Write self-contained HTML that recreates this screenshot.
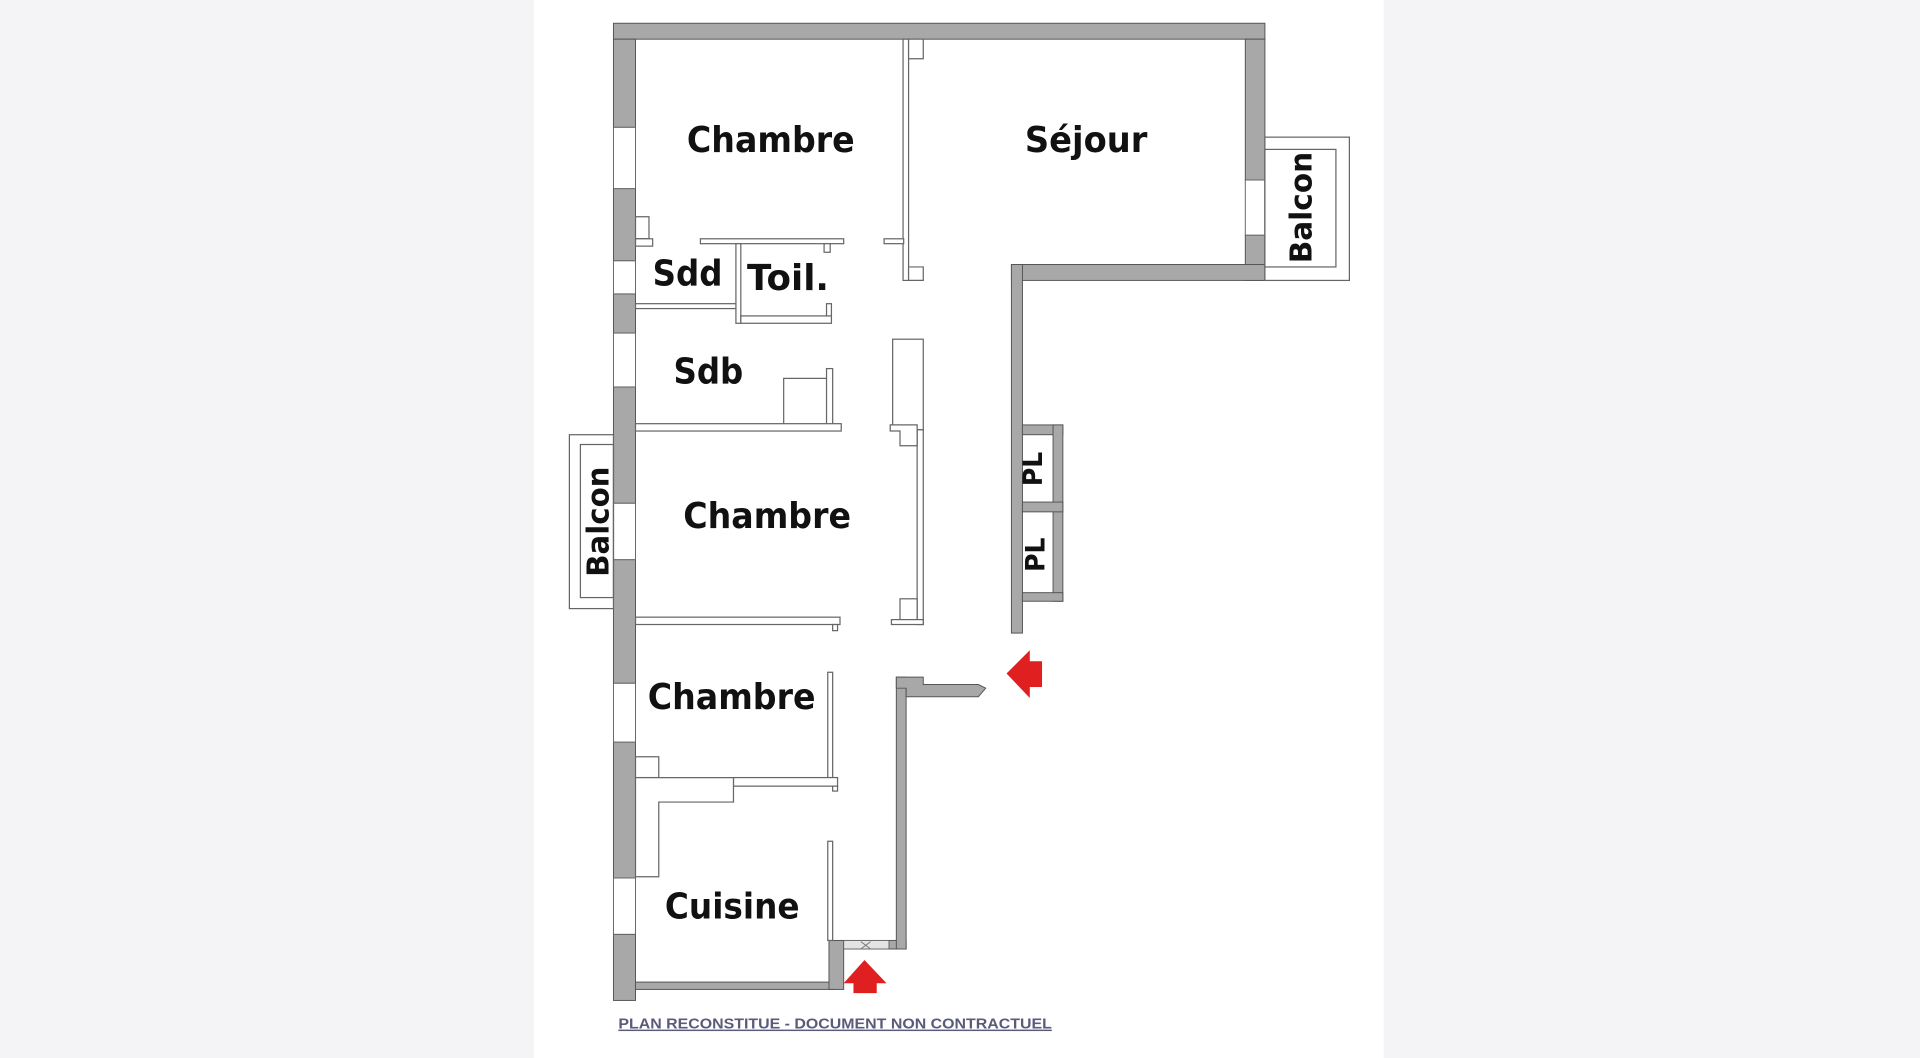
<!DOCTYPE html>
<html><head><meta charset="utf-8"><style>
html,body{margin:0;padding:0;width:1920px;height:1058px;overflow:hidden;background:#f4f4f6}
svg{display:block}
</style></head><body>
<svg width="1920" height="1058" viewBox="0 0 1568 864" preserveAspectRatio="none" xmlns="http://www.w3.org/2000/svg">
<rect x="0" y="0" width="1568" height="864" fill="#f4f4f6"/>
<rect x="436" y="0" width="694" height="864" fill="#ffffff"/>
<g fill="#a8a8a8" stroke="#555" stroke-width="0.8">
 <!-- top wall -->
 <rect x="501" y="19" width="532" height="13"/>
 <!-- right wall -->
 <rect x="1017" y="32" width="16" height="115"/>
 <rect x="1017" y="192" width="16" height="37"/>
 <rect x="826" y="216" width="207" height="13"/>
 <rect x="826" y="216" width="9" height="301"/>
 <!-- PL -->
 <rect x="835" y="347" width="33" height="8"/>
 <rect x="860" y="347" width="8" height="144"/>
 <rect x="835" y="410" width="33" height="8"/>
 <rect x="835" y="484" width="33" height="7"/>
 <!-- left wall -->
 <rect x="501" y="32" width="18" height="72"/>
 <rect x="501" y="154" width="18" height="59"/>
 <rect x="501" y="240" width="18" height="32"/>
 <rect x="501" y="316" width="18" height="95"/>
 <rect x="501" y="457" width="18" height="101"/>
 <rect x="501" y="606" width="18" height="111"/>
 <rect x="501" y="763" width="18" height="54"/>
 <!-- bottom -->
 <rect x="519" y="802" width="162" height="6"/>
 <rect x="677" y="768" width="12" height="40"/>
 <rect x="726" y="768" width="14" height="7"/>
 <rect x="732" y="553" width="8" height="222"/>
 <path d="M732 553 H754 V559 H799 L805 562 L799 569 H740 V562 H732Z"/>
</g>
<!-- windows -->
<g fill="#fff" stroke="#666" stroke-width="0.8">
 <rect x="501" y="104" width="18" height="50"/>
 <rect x="501" y="213" width="18" height="27"/>
 <rect x="501" y="272" width="18" height="44"/>
 <rect x="501" y="411" width="18" height="46"/>
 <rect x="501" y="558" width="18" height="48"/>
 <rect x="501" y="717" width="18" height="46"/>
 <rect x="1017" y="147" width="16" height="45"/>
 <rect x="689" y="768" width="37" height="7" fill="#e4e4e4"/>
</g>
<path d="M703 769 L711 775 M711 769 L703 775" stroke="#777" stroke-width="0.8"/>
<!-- balconies -->
<g fill="none" stroke="#666" stroke-width="1">
 <rect x="465" y="355" width="36" height="142"/>
 <rect x="474" y="363" width="27" height="125"/>
 <rect x="1033" y="112" width="69" height="117"/>
 <rect x="1033" y="122" width="58" height="96"/>
</g>
<!-- partitions -->
<g fill="#fff" stroke="#666" stroke-width="1">
 <rect x="737.5" y="32" width="4.5" height="197"/>
 <path d="M742 32 H754 V48 H742Z"/>
 <path d="M742 218 H754 V229 H742Z"/>
 <rect x="722" y="195" width="16" height="4"/>
 <rect x="572" y="195" width="117" height="4"/>
 <rect x="673" y="199" width="5" height="7"/>
 <rect x="601" y="199" width="4" height="65"/>
 <rect x="605" y="258" width="74" height="6"/>
 <rect x="675" y="248" width="4" height="10"/>
 <rect x="519" y="248" width="82" height="4"/>
 <path d="M519 177 H530 V195 H519Z"/>
 <rect x="519" y="195" width="14" height="6"/>
 <rect x="640" y="309" width="36" height="38"/>
 <rect x="675" y="301" width="5" height="46"/>
 <rect x="519" y="346" width="168" height="6"/>
 <rect x="729" y="277" width="25" height="74"/>
 <rect x="749" y="351" width="5" height="159"/>
 <path d="M727 347 H749 V364 H735 V352 H727Z"/>
 <rect x="735" y="489" width="14" height="17"/>
 <rect x="728" y="506" width="26" height="4"/>
 <rect x="519" y="504" width="167" height="6"/>
 <rect x="680" y="510" width="4" height="5"/>
 <rect x="676" y="549" width="4" height="86"/>
 <rect x="599" y="635" width="85" height="7"/>
 <rect x="680" y="642" width="4" height="4"/>
 <rect x="519" y="618" width="19" height="17"/>
 <path d="M519 635 H599 V655 H538 V716 H519Z"/>
 <rect x="676" y="687" width="4" height="81"/>
</g>
<!-- arrows -->
<path d="M822 550 L841 531 V540 H851 V561 H841 V570Z" fill="#e02020"/>
<path d="M706 784 L724 803 H716 V811 H697 V803 H689Z" fill="#e02020"/>
<!-- labels -->
<g font-family="'DejaVu Sans','Liberation Sans',sans-serif" font-weight="bold" fill="#111" font-size="29">
 <text x="561" y="124" textLength="137" lengthAdjust="spacingAndGlyphs">Chambre</text>
 <text x="837" y="124" textLength="100" lengthAdjust="spacingAndGlyphs">Séjour</text>
 <text x="533" y="233" textLength="57" lengthAdjust="spacingAndGlyphs">Sdd</text>
 <text x="610" y="237" textLength="67" lengthAdjust="spacingAndGlyphs">Toil.</text>
 <text x="550" y="313" textLength="57" lengthAdjust="spacingAndGlyphs">Sdb</text>
 <text x="558" y="431" textLength="137" lengthAdjust="spacingAndGlyphs">Chambre</text>
 <text x="529" y="579" textLength="137" lengthAdjust="spacingAndGlyphs">Chambre</text>
 <text x="543" y="750" textLength="110" lengthAdjust="spacingAndGlyphs">Cuisine</text>
 <text transform="translate(1071,215) rotate(-90)" font-size="25" textLength="91" lengthAdjust="spacingAndGlyphs">Balcon</text>
 <text transform="translate(497,471) rotate(-90)" font-size="25" textLength="90" lengthAdjust="spacingAndGlyphs">Balcon</text>
 <text transform="translate(851,397) rotate(-90)" font-size="22" textLength="28" lengthAdjust="spacingAndGlyphs">PL</text>
 <text transform="translate(853,467) rotate(-90)" font-size="22" textLength="28" lengthAdjust="spacingAndGlyphs">PL</text>
</g>
<text x="505" y="840" font-family="'Liberation Sans',sans-serif" font-weight="bold" font-size="12" fill="#5a5a7a" textLength="354" lengthAdjust="spacingAndGlyphs" text-decoration="underline">PLAN RECONSTITUE - DOCUMENT NON CONTRACTUEL</text>
</svg>
</body></html>
